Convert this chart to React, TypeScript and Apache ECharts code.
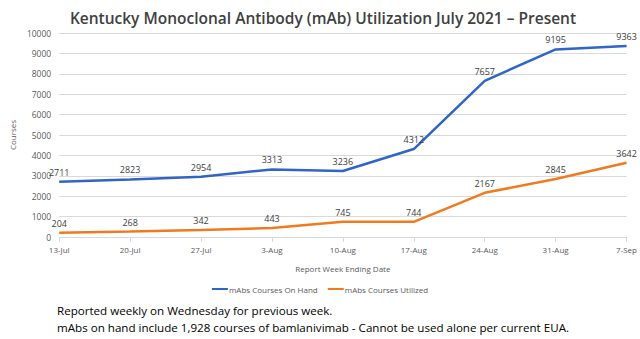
import React, { useEffect, useRef } from "react";
import * as echarts from "echarts";

const categories = ["13-Jul", "20-Jul", "27-Jul", "3-Aug", "10-Aug", "17-Aug", "24-Aug", "31-Aug", "7-Sep"];
const onHand = [2711, 2823, 2954, 3313, 3236, 4312, 7657, 9195, 9363];
const utilized = [204, 268, 342, 443, 745, 744, 2167, 2845, 3642];
const yTicks = { min: 0, max: 10000, interval: 1000 };

const FONT = "'Open Sans', 'Liberation Sans', sans-serif";

export default function App() {
  const ref = useRef<HTMLDivElement>(null);
  useEffect(() => {
    if (!ref.current) return;
    const chart = echarts.init(ref.current, null, { renderer: "svg" });
    const label = {
      show: true,
      position: "top" as const,
      color: "#404040",
      fontSize: 9,
      fontFamily: FONT,
      distance: 5,
    };
    chart.setOption({
      animation: false,
      backgroundColor: "#ffffff",
      title: {
        text: "Kentucky Monoclonal Antibody (mAb) Utilization July 2021 – Present",
        left: 318,
        textAlign: "center",
        top: 5,
        textStyle: { fontFamily: FONT, fontSize: 15.5, fontWeight: 600, color: "#404040" },
      },
      grid: { left: 48, right: 13, top: 33, bottom: 102, containLabel: false },
      legend: {
        top: 280,
        left: "center",
        itemWidth: 16,
        itemHeight: 2,
        itemGap: 10,
        icon: "rect",
        textStyle: { fontFamily: FONT, fontSize: 8, color: "#595959", padding: [0, 0, 0, -4] },
        data: ["mAbs Courses On Hand", "mAbs Courses Utilized"],
      },
      xAxis: {
        type: "category",
        data: categories,
        boundaryGap: false,
        name: "Report Week Ending Date",
        nameLocation: "middle",
        nameGap: 27,
        nameTextStyle: { fontFamily: FONT, fontSize: 8, color: "#595959" },
        axisLine: { lineStyle: { color: "#d9d9d9" } },
        axisTick: { show: true, alignWithLabel: true, lineStyle: { color: "#d9d9d9" } },
        axisLabel: { fontFamily: FONT, fontSize: 8, color: "#595959", margin: 8 },
      },
      yAxis: {
        type: "value",
        min: yTicks.min,
        max: yTicks.max,
        interval: yTicks.interval,
        name: "Courses",
        nameLocation: "middle",
        nameGap: 38,
        nameTextStyle: { fontFamily: FONT, fontSize: 8, color: "#595959" },
        axisLine: { show: false },
        axisTick: { show: false },
        axisLabel: { fontFamily: FONT, fontSize: 8.5, color: "#595959", margin: 8, formatter: (v: number) => String(v) },
        splitLine: { lineStyle: { color: "#d9d9d9", width: 1 } },
      },
      series: [
        {
          name: "mAbs Courses On Hand",
          type: "line",
          data: onHand,
          symbol: "circle",
          symbolSize: 0,
          showSymbol: true,
          lineStyle: { color: "#2f65c6", width: 2.5 },
          itemStyle: { color: "#2f65c6" },
          label,
        },
        {
          name: "mAbs Courses Utilized",
          type: "line",
          data: utilized,
          symbol: "circle",
          symbolSize: 0,
          showSymbol: true,
          lineStyle: { color: "#f07a1e", width: 2.5 },
          itemStyle: { color: "#f07a1e" },
          label,
        },
      ],
      graphic: [
        {
          type: "text",
          left: 57,
          top: 302,
          style: {
            text: "Reported weekly on Wednesday for previous week.\nmAbs on hand include 1,928 courses of bamlanivimab - Cannot be used alone per current EUA.",
            fontFamily: FONT,
            fontSize: 11.6,
            lineHeight: 17,
            fill: "#000000",
          },
        },
      ],
    });
    return () => chart.dispose();
  }, []);
  return <div ref={ref} style={{ width: 640, height: 339, position: "absolute", left: 0, top: 0 }} />;
}
